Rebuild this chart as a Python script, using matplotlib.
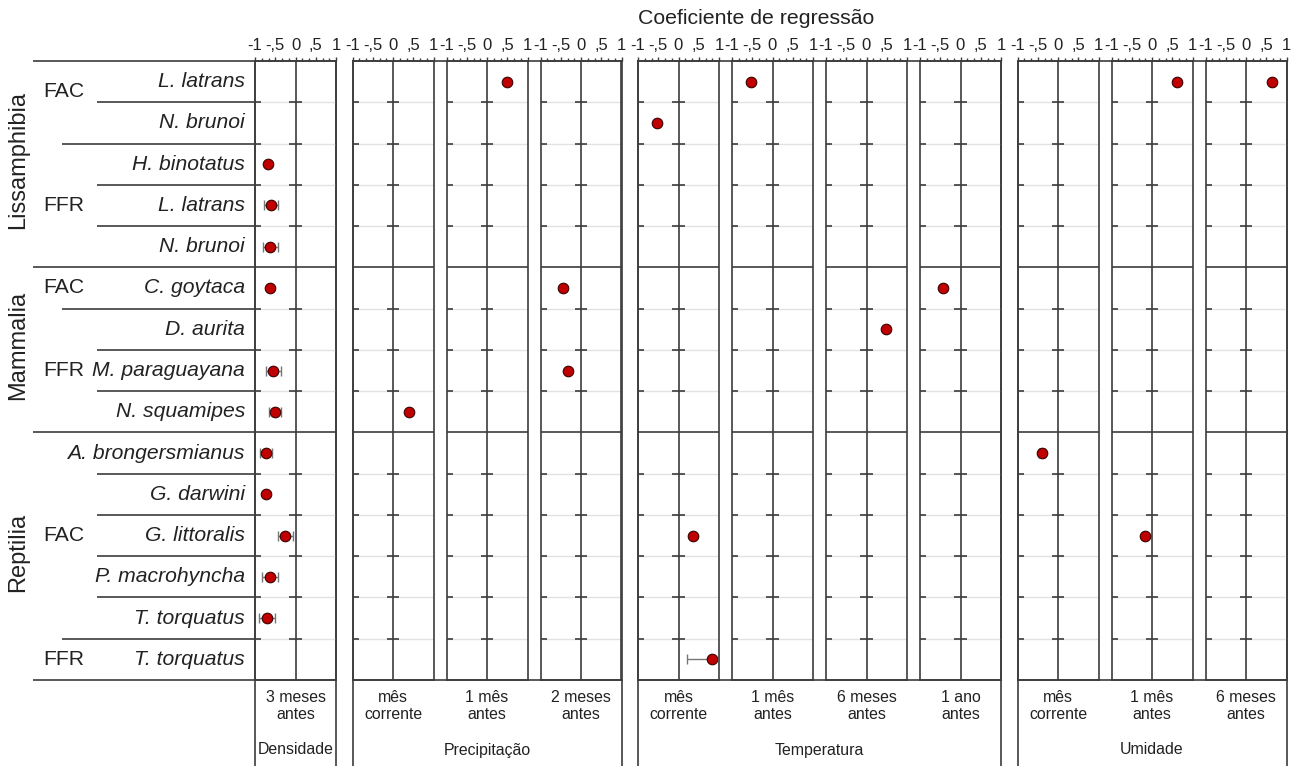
import matplotlib
matplotlib.use("Agg")
import matplotlib.pyplot as plt
from matplotlib.ticker import FixedLocator, MultipleLocator, FuncFormatter

plt.rcParams["font.family"] = ["Liberation Sans", "DejaVu Sans"]

# rows, top to bottom
classes = ["Lissamphibia"] * 5 + ["Mammalia"] * 4 + ["Reptilia"] * 6
guilds = ["FAC", "FAC", "FFR", "FFR", "FFR",
          "FAC", "FFR", "FFR", "FFR",
          "FAC", "FAC", "FAC", "FAC", "FAC", "FFR"]
species = ["L. latrans", "N. brunoi", "H. binotatus", "L. latrans", "N. brunoi",
           "C. goytaca", "D. aurita", "M. paraguayana", "N. squamipes",
           "A. brongersmianus", "G. darwini", "G. littoralis", "P. macrohyncha",
           "T. torquatus", "T. torquatus"]

variables = ["Densidade", "Precipitação", "Temperatura", "Umidade"]
lags = [["3 meses\nantes"],
        ["mês\ncorrente", "1 mês\nantes", "2 meses\nantes"],
        ["mês\ncorrente", "1 mês\nantes", "6 meses\nantes", "1 ano\nantes"],
        ["mês\ncorrente", "1 mês\nantes", "6 meses\nantes"]]

# regression coefficients: panel (0-10, left to right), row, value, error
coef_panel = [0] * 11 + [1, 2, 3, 3, 4, 4, 4, 5, 6, 7, 8, 9, 9, 10]
coef_row = [2, 3, 4, 5, 7, 8, 9, 10, 11, 12, 13,
            8, 0, 5, 7, 1, 11, 14, 0, 6, 5, 9, 0, 11, 0]
coef_value = [-0.67, -0.60, -0.62, -0.62, -0.55, -0.50, -0.73, -0.72, -0.25, -0.62, -0.70,
              0.40, 0.50, -0.45, -0.33, -0.54, 0.35, 0.82, -0.52, 0.47, -0.42,
              -0.40, 0.62, -0.17, 0.63]
coef_err = [0, 0.18, 0.18, 0, 0.18, 0.15, 0.14, 0, 0.18, 0.2, 0.2,
            0, 0, 0, 0, 0, 0, 0.62, 0, 0, 0, 0.08, 0, 0, 0]

tick_vals = [-1, -0.5, 0, 0.5, 1]
tick_text = ["-1", "-,5", "0", ",5", "1"]

# layout (pixels)
W, H = 1298, 766
TOP, BOT = 61, 680
PANEL_W = 81
INNER_GAP, OUTER_GAP = 13, 16.5
DARK, LIGHT = "#3c3c3c", "#e2e2e2"
LW = 1.2
n_rows = len(species)


def add_px_axes(left, top, width, bottom):
    return fig.add_axes([left / W, (H - bottom) / H, width / W, (bottom - top) / H])


def boundary_kind(b):
    if classes[b] != classes[b - 1]:
        return "class"
    if guilds[b] != guilds[b - 1]:
        return "guild"
    return "species"


boundaries = list(range(1, n_rows))
kinds = [boundary_kind(b) for b in boundaries]

fig = plt.figure(figsize=(W / 100, H / 100), dpi=100)

# left label area
lab = add_px_axes(0, TOP, 255, BOT)
lab.set_xlim(0, 255)
lab.set_ylim(n_rows, 0)
lab.axis("off")
lab.hlines([0, n_rows], 33, 255, color=DARK, lw=LW, clip_on=False)
start_x = {"class": 33, "guild": 62, "species": 97}
for b, k in zip(boundaries, kinds):
    lab.hlines(b, start_x[k], 255, color=DARK, lw=LW, clip_on=False)
for i, name in enumerate(species):
    lab.text(245, i + 0.5, name, ha="right", va="center", fontsize=15.2, style="italic", color="#222222")

# guild and class labels
i = 0
while i < n_rows:
    j = i
    while j + 1 < n_rows and guilds[j + 1] == guilds[i] and classes[j + 1] == classes[i]:
        j += 1
    y = (i + j + 1) / 2
    if (j - i + 1) % 2 == 0:
        y -= 0.27
    lab.text(43, y, guilds[i], ha="left", va="center", fontsize=15.2, color="#222222")
    i = j + 1
for cl in dict.fromkeys(classes):
    idx = [k for k, c in enumerate(classes) if c == cl]
    lab.text(18, (idx[0] + idx[-1] + 1) / 2 - 0.1, cl, rotation=90, ha="center", va="center",
             fontsize=17, color="#222222")

fig.text(756 / W, 1 - 18 / H, "Coeficiente de regressão", ha="center", va="center",
         fontsize=15.3, color="#222222")

# panels
panel_axes = []
x = 255
for var, var_lags in zip(variables, lags):
    g_left = x
    lefts = []
    for j in range(len(var_lags)):
        lefts.append(x)
        x += PANEL_W + (INNER_GAP if j < len(var_lags) - 1 else 0)
    g_right = x
    x += OUTER_GAP

    frame = add_px_axes(g_left, TOP, g_right - g_left, H)
    frame.set_xlim(g_left, g_right)
    frame.set_ylim(H, TOP)
    frame.set_facecolor("none")
    frame.set_xticks([])
    frame.set_yticks([])
    for side in ["top", "left", "right"]:
        frame.spines[side].set_color(DARK)
        frame.spines[side].set_linewidth(LW)
    frame.spines["bottom"].set_visible(False)
    frame.axhline(BOT, color=DARK, lw=LW)
    for left, lag in zip(lefts, var_lags):
        frame.text(left + PANEL_W / 2, 706, lag, ha="center", va="center",
                   fontsize=11.4, linespacing=1.15, color="#222222")
    frame.text((g_left + g_right) / 2, 750, var, ha="center", va="center",
               fontsize=11.4, color="#222222")

    for left in lefts:
        ax = add_px_axes(left, TOP, PANEL_W, BOT)
        ax.set_zorder(2)
        ax.set_facecolor("none")
        ax.set_xlim(-1, 1)
        ax.set_ylim(n_rows, 0)
        for side in ax.spines:
            ax.spines[side].set_color(DARK)
            ax.spines[side].set_linewidth(LW)
        ax.xaxis.set_ticks_position("top")
        ax.xaxis.set_major_locator(FixedLocator(tick_vals))
        ax.xaxis.set_major_formatter(FuncFormatter(lambda v, p: tick_text[tick_vals.index(round(v, 2))]))
        ax.xaxis.set_minor_locator(MultipleLocator(1 / 6))
        ax.tick_params(axis="x", which="major", length=3, width=1, color=DARK, pad=2.5,
                       labelsize=12, labelcolor="#222222")
        ax.tick_params(axis="x", which="minor", length=2.5, width=1, color=DARK)
        ax.set_yticks([])
        ax.axvline(0, color=DARK, lw=LW, zorder=1)
        for b, k in zip(boundaries, kinds):
            if k == "class":
                ax.hlines(b, -1, 1, color=DARK, lw=LW, zorder=1)
            else:
                ax.hlines(b, -1, 1, color=LIGHT, lw=1, zorder=0.5)
                ax.hlines(b, -1, -0.85, color=DARK, lw=LW, zorder=1)
                ax.hlines(b, -0.15, 0.15, color=DARK, lw=LW, zorder=1)
        panel_axes.append(ax)

# coefficients
for p, r, v, e in zip(coef_panel, coef_row, coef_value, coef_err):
    ax = panel_axes[p]
    if e > 0:
        ax.errorbar(v, r + 0.5, xerr=e, fmt="none", ecolor="#777777", elinewidth=1,
                    capsize=3.5, capthick=1, zorder=3)
    ax.plot(v, r + 0.5, "o", ms=7.6, mfc="#c00000", mec="#3a0000", mew=0.8, zorder=4)

fig.savefig("out.png", dpi=100)
